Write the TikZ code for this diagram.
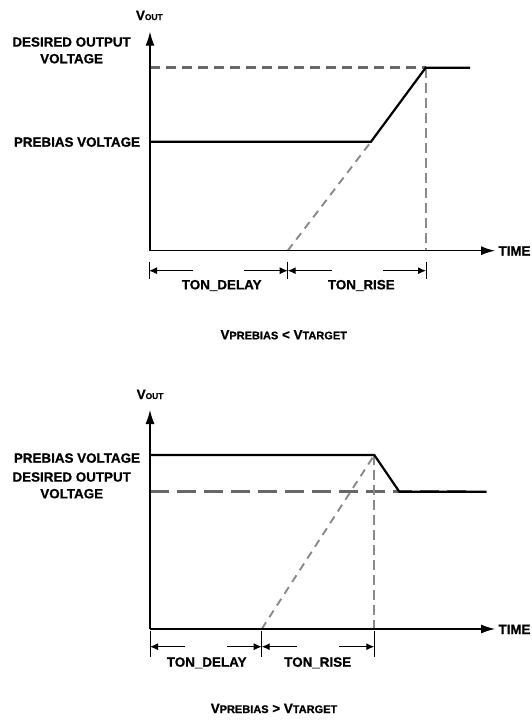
\documentclass[tikz,border=0pt]{standalone}
\usepackage{fontspec}
\setmainfont{Liberation Sans}[BoldFont={Liberation Sans Bold},BoldFeatures={FakeBold=0.8}]
\usetikzlibrary{arrows.meta}
\definecolor{refgray}{HTML}{666666}
\definecolor{lightgray}{HTML}{8A8A8A}
\newcommand{\subtxt}[1]{{\fontsize{8.4}{10}\selectfont\bfseries #1}}
\newcommand{\capsub}[1]{{\fontsize{11}{12}\selectfont\bfseries #1}}
\begin{document}
\begin{tikzpicture}[x=1pt,y=-1pt,
  lbl/.style={font=\bfseries\fontsize{13.4}{16.7}\selectfont, inner sep=0pt, outer sep=0pt},
  axisline/.style={line width=1.2pt, -{Latex[length=14pt,width=9pt]}},
  signal/.style={line width=2.2pt, line join=miter},
  refdash/.style={line width=2.5pt, draw=refgray, dash pattern=on 10pt off 6pt},
  refdashthick/.style={line width=3.3pt, draw=refgray, dash pattern=on 19pt off 8pt},
  diagdash/.style={line width=1.9pt, draw=lightgray, dash pattern=on 8pt off 6pt},
  vdash/.style={line width=2pt, draw=lightgray, dash pattern=on 10pt off 5pt},
  dimtick/.style={line width=1pt},
  dimarr/.style={line width=1pt, -{Latex[length=8pt,width=7pt]}}
]
\useasboundingbox (0,0) rectangle (532,720);

% ================= TOP CHART =================
\coordinate (o1) at (150,250.7);
\coordinate (ytop1) at (150,31.7);
\coordinate (xend1) at (495,250.7);
\coordinate (d1a) at (150,67.7);
\coordinate (d1b) at (425.7,67.7);
\coordinate (p1a) at (150,141.7);
\coordinate (p1b) at (371,141.7);
\coordinate (p1c) at (470,67.7);
\coordinate (g1) at (287.7,250.7);
\coordinate (v1) at (425.7,250.7);

\draw[refdash] (d1a) -- (d1b);
\draw[diagdash] (g1) -- (p1b);
\draw[vdash] (d1b) -- (v1);
\draw[signal] (p1a) -- (p1b) -- (d1b) -- (p1c);
\draw[axisline] (o1) -- (ytop1);
\draw[axisline] (o1) -- (xend1);

% dimension lines
\coordinate (t1at) at (149,261.7);   \coordinate (t1ab) at (149,279);
\coordinate (t1bt) at (287.7,261.7); \coordinate (t1bb) at (287.7,279);
\coordinate (t1ct) at (426,261.7);   \coordinate (t1cb) at (426,279);
\draw[dimtick] (t1at) -- (t1ab);
\draw[dimtick] (t1bt) -- (t1bb);
\draw[dimtick] (t1ct) -- (t1cb);
\coordinate (a1l) at (149,270.7);   \coordinate (a1la) at (193,270.7);
\coordinate (a1m) at (287.7,270.7); \coordinate (a1ma) at (244,270.7);
\coordinate (a1mb) at (332,270.7);
\coordinate (a1r) at (426,270.7);   \coordinate (a1ra) at (383,270.7);
\draw[dimarr] (a1la) -- (a1l);
\draw[dimarr] (a1ma) -- (a1m);
\draw[dimarr] (a1mb) -- (a1m);
\draw[dimarr] (a1ra) -- (a1r);

\node[lbl, anchor=base west] (vout1) at (136,20) {V\subtxt{OUT}};
\node[lbl, anchor=base, align=center] (des1) at (71.6,63.3) {DESIRED OUTPUT\\VOLTAGE};
\node[lbl, anchor=base east] (pre1) at (140,146.7) {PREBIAS VOLTAGE};
\node[lbl, anchor=base east] (time1) at (530.5,255.5) {TIME};
\node[lbl, anchor=base] (tond1) at (221.7,289.3) {TON\_DELAY};
\node[lbl, anchor=base] (tonr1) at (361.3,289.3) {TON\_RISE};
\node[lbl, anchor=base] (cap1) at (283.7,339.3) {V\capsub{PREBIAS} < V\capsub{TARGET}};

% ================= BOTTOM CHART =================
\coordinate (o2) at (150,629);
\coordinate (ytop2) at (150,410);
\coordinate (xend2) at (495,629);
\coordinate (p2a) at (150,455);
\coordinate (p2b) at (374.3,455);
\coordinate (p2c) at (399.3,491.7);
\coordinate (p2d) at (486.7,491.7);
\coordinate (d2a) at (150,491.7);
\coordinate (d2b) at (470,491.7);
\coordinate (g2) at (261.7,629);
\coordinate (v2) at (374.3,629);

\draw[refdashthick] (d2a) -- (d2b);
\draw[diagdash] (g2) -- (p2b);
\draw[vdash] (p2b) -- (v2);
\draw[signal] (p2a) -- (p2b) -- (p2c) -- (p2d);
\draw[axisline] (o2) -- (ytop2);
\draw[axisline] (o2) -- (xend2);

\coordinate (t2at) at (150,631);   \coordinate (t2ab) at (150,657);
\coordinate (t2bt) at (261.7,631); \coordinate (t2bb) at (261.7,657);
\coordinate (t2ct) at (374.3,631); \coordinate (t2cb) at (374.3,657);
\draw[dimtick] (t2at) -- (t2ab);
\draw[dimtick] (t2bt) -- (t2bb);
\draw[dimtick] (t2ct) -- (t2cb);
\coordinate (a2l) at (150,646.7);   \coordinate (a2la) at (185,646.7);
\coordinate (a2m) at (261.7,646.7); \coordinate (a2ma) at (227,646.7);
\coordinate (a2mb) at (296.7,646.7);
\coordinate (a2r) at (374.3,646.7); \coordinate (a2ra) at (339,646.7);
\draw[dimarr] (a2la) -- (a2l);
\draw[dimarr] (a2ma) -- (a2m);
\draw[dimarr] (a2mb) -- (a2m);
\draw[dimarr] (a2ra) -- (a2r);

\node[lbl, anchor=base west] (vout2) at (136.7,399) {V\subtxt{OUT}};
\node[lbl, anchor=base east] (pre2) at (140,462.7) {PREBIAS VOLTAGE};
\node[lbl, anchor=base, align=center] (des2) at (71.7,498.3) {DESIRED OUTPUT\\VOLTAGE};
\node[lbl, anchor=base east] (time2) at (530.5,634) {TIME};
\node[lbl, anchor=base] (tond2) at (206.7,666.7) {TON\_DELAY};
\node[lbl, anchor=base] (tonr2) at (317.7,666.7) {TON\_RISE};
\node[lbl, anchor=base] (cap2) at (274,713) {V\capsub{PREBIAS} > V\capsub{TARGET}};
\end{tikzpicture}
\end{document}
